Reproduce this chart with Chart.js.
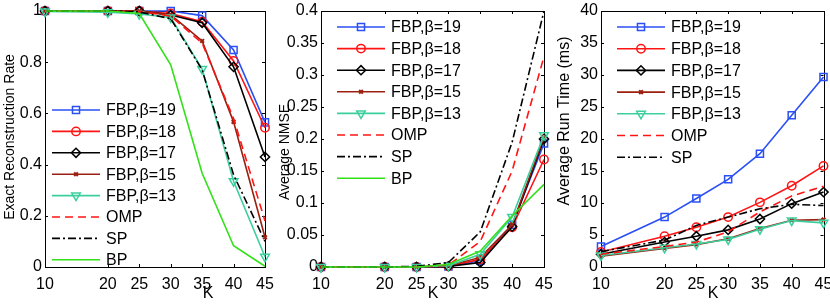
<!DOCTYPE html>
<html>
<head>
<meta charset="utf-8">
<script src="https://cdn.jsdelivr.net/npm/chart.js@4/dist/chart.umd.min.js"></script>
<style>
  body { margin: 0; background: #fff; width: 830px; height: 308px; overflow: hidden; position: relative; }
  canvas { position: absolute; top: 0; }
</style>
</head>
<body>
<canvas id="rateChart" width="276" height="308" style="left:0"></canvas>
<canvas id="nmseChart" width="276" height="308" style="left:276px"></canvas>
<canvas id="timeChart" width="278" height="308" style="left:552px"></canvas>
<script>
const kValues = [10, 20, 25, 30, 35, 40, 45];
const seriesNames = ['FBP,β=19', 'FBP,β=18', 'FBP,β=17', 'FBP,β=15', 'FBP,β=13', 'OMP', 'SP', 'BP'];

// exact reconstruction rate
const rateB19 = [1, 1, 1, 1, 0.982, 0.848, 0.565];
const rateB18 = [1, 1, 1, 0.99, 0.958, 0.805, 0.544];
const rateB17 = [1, 1, 1, 0.984, 0.954, 0.782, 0.43];
const rateB15 = [1, 1, 1, 0.985, 0.883, 0.567, 0.116];
const rateB13 = [0.998, 0.995, 0.988, 0.975, 0.773, 0.335, 0.04];
const rateOMP = [1, 1, 0.998, 0.98, 0.875, 0.58, 0.18];
const rateSP  = [1, 1, 0.996, 0.97, 0.77, 0.36, 0.1];
const rateBP  = [1, 1, 0.99, 0.79, 0.366, 0.083, 0.003];

// average NMSE
const nmseB19 = [0, 0, 0, 0.001, 0.01, 0.066, 0.193];
const nmseB18 = [0, 0, 0, 0.001, 0.012, 0.062, 0.168];
const nmseB17 = [0, 0, 0, 0.001, 0.007, 0.063, 0.2];
const nmseB15 = [0, 0, 0, 0.002, 0.015, 0.066, 0.203];
const nmseB13 = [0, 0, 0, 0.002, 0.02, 0.078, 0.206];
const nmseOMP = [0, 0, 0, 0.003, 0.04, 0.15, 0.329];
const nmseSP  = [0, 0, 0.001, 0.007, 0.055, 0.195, 0.4];
const nmseBP  = [0, 0, 0, 0.004, 0.025, 0.08, 0.129];

// average run time (ms)
const timeB19 = [3.2, 7.8, 10.7, 13.7, 17.7, 23.7, 29.7];
const timeB18 = [2.35, 4.8, 6.2, 7.8, 10.1, 12.7, 15.8];
const timeB17 = [2.0, 3.9, 4.8, 5.8, 7.5, 9.9, 11.7];
const timeB15 = [1.7, 2.9, 3.5, 4.4, 6.0, 7.3, 7.4];
const timeB13 = [1.8, 3.0, 3.6, 4.3, 5.9, 7.25, 6.9];
const timeOMP = [2.0, 3.2, 3.9, 5.5, 8.6, 11.1, 12.6];
const timeSP  = [2.4, 4.2, 6.5, 7.8, 9.1, 9.8, 9.6];

const FONT = "'Liberation Sans', Arial, Helvetica, sans-serif";
const NARROW = "'Liberation Sans Narrow', 'Liberation Sans', Arial, sans-serif";

const STYLES = [
  { color: '#2a4ff5', marker: 'rect',     radius: 5,   rot: 0,   width: 1.6 },
  { color: '#ff1414', marker: 'circle',   radius: 4.2, rot: 0,   width: 1.6 },
  { color: '#000000', marker: 'rectRot',  radius: 4.6, rot: 0,   width: 1.6 },
  { color: '#9b2010', marker: 'crossRot', radius: 2.6, rot: 0,   width: 1.6 },
  { color: '#3ccf9e', marker: 'triangle', radius: 5,   rot: 180, width: 1.6 },
  { color: '#ff1414', marker: false, dash: [8, 5],       width: 1.6 },
  { color: '#000000', marker: false, dash: [8, 3, 2, 3], width: 1.6 },
  { color: '#33e01a', marker: false,                     width: 1.6 }
];

function makeDatasets(seriesList) {
  return seriesList.map((vals, i) => {
    const st = STYLES[i];
    return {
      label: seriesNames[i],
      data: kValues.map((k, j) => ({ x: k, y: vals[j] })),
      borderColor: st.color,
      borderWidth: st.width,
      borderDash: st.dash || [],
      pointStyle: st.marker || 'circle',
      pointRadius: st.marker ? st.radius : 0,
      pointRotation: st.rot || 0,
      pointBorderColor: st.color,
      pointBorderWidth: st.marker === 'crossRot' ? 2 : 1.5,
      pointBackgroundColor: 'rgba(0,0,0,0)',
      tension: 0,
      clip: false,
      order: seriesList.length - i
    };
  });
}

function drawMarker(ctx, st, x, y) {
  if (!st.marker || !Chart.helpers || !Chart.helpers.drawPoint) return;
  ctx.save();
  ctx.setLineDash([]);
  ctx.strokeStyle = st.color;
  ctx.fillStyle = 'rgba(0,0,0,0)';
  ctx.lineWidth = st.marker === 'crossRot' ? 2 : 1.5;
  Chart.helpers.drawPoint(ctx, { pointStyle: st.marker, rotation: st.rot || 0, radius: st.radius, borderWidth: ctx.lineWidth }, x, y);
  ctx.restore();
}

// MATLAB-like box with inward ticks, axis labels and legend
const matlabAxes = {
  id: 'matlabAxes',
  beforeDatasetsDraw(chart, args, o) {
    const { ctx, chartArea: a, scales } = chart;
    ctx.save();
    ctx.strokeStyle = '#000';
    ctx.lineWidth = 1;
    ctx.strokeRect(Math.round(a.left) + 0.5, Math.round(a.top) + 0.5, Math.round(a.right - a.left), Math.round(a.bottom - a.top));
    ctx.beginPath();
    scales.x.ticks.forEach(t => {
      const px = Math.round(scales.x.getPixelForValue(t.value)) + 0.5;
      ctx.moveTo(px, a.bottom); ctx.lineTo(px, a.bottom - 3);
      ctx.moveTo(px, a.top); ctx.lineTo(px, a.top + 3);
    });
    scales.y.ticks.forEach(t => {
      const py = Math.round(scales.y.getPixelForValue(t.value)) + 0.5;
      ctx.moveTo(a.left, py); ctx.lineTo(a.left + 3, py);
      ctx.moveTo(a.right, py); ctx.lineTo(a.right - 3, py);
    });
    ctx.stroke();

    ctx.fillStyle = '#000';
    ctx.textAlign = 'center';
    ctx.textBaseline = 'middle';
    ctx.font = '16px ' + FONT;
    ctx.fillText('K', o.kx, 294);
    ctx.save();
    ctx.translate(o.yTitleX, o.yTitleY);
    ctx.rotate(-Math.PI / 2);
    ctx.font = o.yTitleFont;
    ctx.fillText(o.yTitle, 0, 0);
    ctx.restore();
    ctx.restore();
  },
  afterDatasetsDraw(chart, args, o) {
    const ctx = chart.ctx;
    ctx.save();
    ctx.font = '16px ' + FONT;
    ctx.textBaseline = 'middle';
    ctx.textAlign = 'left';
    chart.data.datasets.forEach((ds, i) => {
      const st = STYLES[i];
      const y = o.legendTop + i * o.legendStep;
      ctx.strokeStyle = st.color;
      ctx.lineWidth = st.width;
      ctx.setLineDash(st.dash || []);
      ctx.beginPath();
      ctx.moveTo(o.legendX, y);
      ctx.lineTo(o.legendX + 48, y);
      ctx.stroke();
      drawMarker(ctx, st, o.legendX + 24, y);
      ctx.fillStyle = '#000';
      ctx.fillText(ds.label, o.legendX + 54, y + 1);
    });
    ctx.restore();
  }
};

function fmt(v) { return String(+Number(v).toFixed(3)); }

function makeChart(id, series, opt) {
  const ctx = document.getElementById(id).getContext('2d');
  return new Chart(ctx, {
    type: 'line',
    data: { datasets: makeDatasets(series) },
    plugins: [matlabAxes],
    options: {
      responsive: false,
      animation: false,
      events: [],
      layout: { padding: { top: 11, right: opt.padRight, bottom: 0, left: 0 } },
      plugins: {
        legend: { display: false },
        tooltip: { enabled: false },
        matlabAxes: opt.axes
      },
      scales: {
        x: {
          type: 'linear', min: 10, max: 45,
          afterBuildTicks: s => { s.ticks = kValues.map(v => ({ value: v })); },
          afterFit: s => { s.height = 41; s.paddingLeft = 0; s.paddingRight = 0; },
          grid: { display: false, drawTicks: false },
          border: { display: false },
          ticks: { color: '#000', font: { family: FONT, size: 16 }, padding: 8, maxRotation: 0, autoSkip: false, callback: v => fmt(v) }
        },
        y: {
          min: 0, max: opt.yMax,
          afterFit: s => { s.width = opt.yWidth; s.paddingTop = 0; s.paddingBottom = 0; },
          grid: { display: false, drawTicks: false },
          border: { display: false },
          ticks: { color: '#000', font: opt.yTickFont, stepSize: opt.yStep, padding: 3, callback: v => fmt(v) }
        }
      }
    }
  });
}

makeChart('rateChart', [rateB19, rateB18, rateB17, rateB15, rateB13, rateOMP, rateSP, rateBP], {
  padRight: 11, yWidth: 45, yMax: 1, yStep: 0.2,
  yTickFont: { family: FONT, size: 16 },
  axes: { kx: 208, yTitle: 'Exact Reconstruction Rate', yTitleX: 10, yTitleY: 137, yTitleFont: '14px ' + FONT,
          legendX: 52, legendTop: 110, legendStep: 21.4 }
});

makeChart('nmseChart', [nmseB19, nmseB18, nmseB17, nmseB15, nmseB13, nmseOMP, nmseSP, nmseBP], {
  padRight: 8, yWidth: 45, yMax: 0.4, yStep: 0.05,
  yTickFont: { family: NARROW, size: 16 },
  axes: { kx: 157, yTitle: 'Average NMSE', yTitleX: 9, yTitleY: 152, yTitleFont: '14px ' + NARROW,
          legendX: 61, legendTop: 27, legendStep: 21.6 }
});

makeChart('timeChart', [timeB19, timeB18, timeB17, timeB15, timeB13, timeOMP, timeSP], {
  padRight: 4, yWidth: 49, yMax: 40, yStep: 5,
  yTickFont: { family: FONT, size: 16 },
  axes: { kx: 161, yTitle: 'Average Run Time (ms)', yTitleX: 13, yTitleY: 121, yTitleFont: '16px ' + FONT,
          legendX: 65, legendTop: 27, legendStep: 21.7 }
});
</script>
</body>
</html>
